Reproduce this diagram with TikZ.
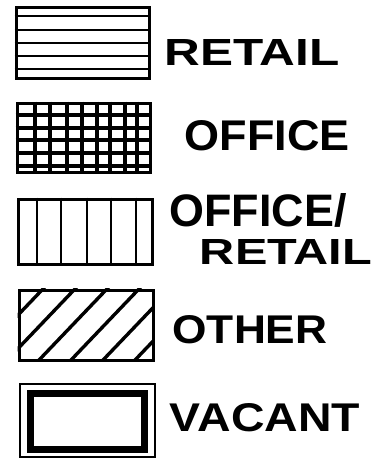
\documentclass[tikz,border=0pt]{standalone}
\usepackage{fontspec}
\setmainfont{Liberation Sans}
\usepackage{graphicx}

\begin{document}
\begin{tikzpicture}[
  x=1pt, y=-1pt,
  legbox/.style={draw, line width=3pt, inner sep=0pt},
  hatch/.style ={line width=2.8pt},
  grid/.style  ={line width=3.4pt},
  lbl/.style   ={inner sep=0pt, anchor=center, font=\bfseries},
]
\useasboundingbox (0,0) rectangle (381,459);

% legend boxes
\node[legbox, minimum width=133pt, minimum height=71pt] (retail) at (82.5,42.5)  {};
\node[legbox, minimum width=133pt, minimum height=69pt] (office) at (83.5,137.5) {};
\node[legbox, minimum width=134pt, minimum height=65pt] (offret) at (85,231.5)   {};
\node[legbox, minimum width=134pt, minimum height=70pt] (other)  at (86,325)     {};
\node[draw, line width=2.2pt, inner sep=0pt, minimum width=135pt, minimum height=73pt] (vacout) at (87.5,420.5) {};
\node[draw, line width=7pt, inner sep=0pt, minimum width=114pt, minimum height=56pt]   (vacin)  at (87,421)     {};

% fills
\foreach \y in {16,30,43,56,69}
  \draw[hatch] (retail.west |- 0,\y) -- (retail.east |- 0,\y);
\foreach \y in {115,128,140,153,166}
  \draw[grid] (office.west |- 0,\y) -- (office.east |- 0,\y);
\foreach \x in {35,50,67,82,97,110,125,137}
  \draw[grid] (office.north -| \x,0) -- (office.south -| \x,0);
\foreach \x in {37,61,87,111,136}
  \draw[hatch] (offret.north -| \x,0) -- (offret.south -| \x,0);
\begin{scope}
  \clip (other.south west) rectangle (other.north east);
  \foreach \x in {-25,7,...,135}
    \draw[hatch, line width=3.4pt] (\x-20,381) -- (\x+87,269);
\end{scope}

% labels
\node[lbl] (lretail) at (252,52)  {\resizebox{175pt}{26pt}{RETAIL}};
\node[lbl] (loffice) at (267,136) {\resizebox{165pt}{30pt}{OFFICE}};
\node[lbl] (loffret) at (258,210) {\resizebox{177pt}{33pt}{OFFICE/}};
\node[lbl] (lretail2) at (286,252) {\resizebox{172pt}{25pt}{RETAIL}};
\node[lbl] (lother)  at (250,330) {\resizebox{155pt}{28pt}{OTHER}};
\node[lbl] (lvacant) at (265,418) {\resizebox{190pt}{28pt}{VACANT}};
\end{tikzpicture}
\end{document}
